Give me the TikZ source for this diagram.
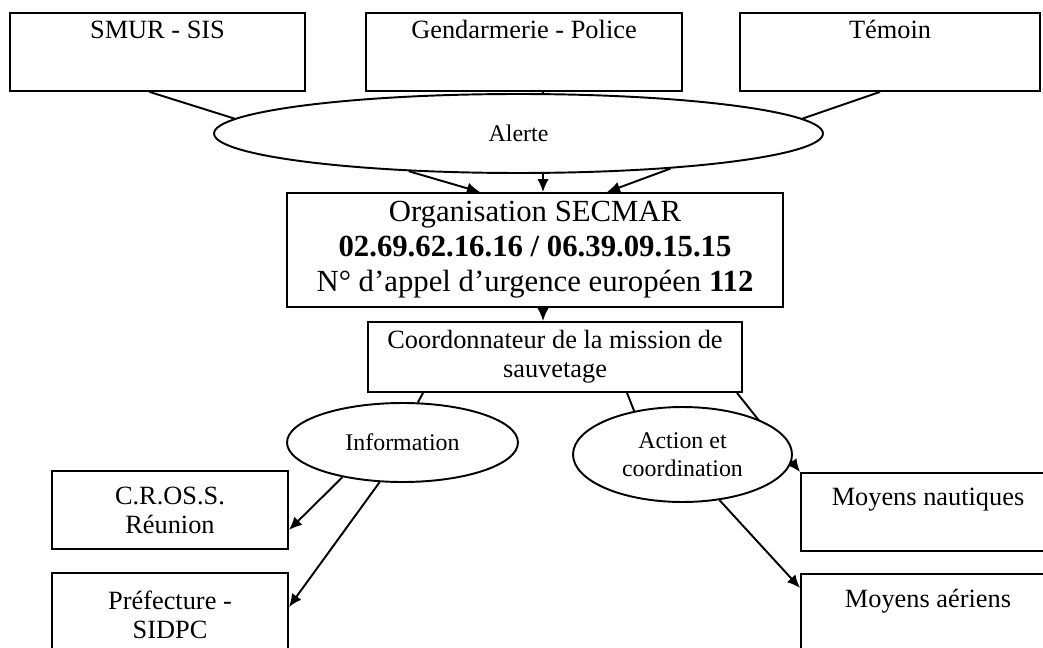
\documentclass[tikz,border=0pt]{standalone}
\usepackage{fontspec}
\setmainfont{Liberation Serif}
\usetikzlibrary{shapes.geometric,arrows.meta,calc}
\begin{document}
\begin{tikzpicture}[x=0.02cm, y=-0.02cm, line width=1.1pt,
    haut/.style={draw, anchor=north, inner ysep=0pt, font=\fontsize{15}{17}\selectfont},
    boite/.style={draw, align=center, inner sep=0pt, font=\fontsize{15}{16.5}\selectfont},
    bulle/.style={draw, ellipse, fill=white, align=center, inner sep=0pt, font=\fontsize{13.6}{16}\selectfont},
    fleche/.style={-{Latex[length=2.6mm,width=2.3mm]}}]
  \path[use as bounding box, clip] (0,0) rectangle (1043,648);
  \fill[white] (0,0) rectangle (1043,648);
  \coordinate (mid) at (543,0);
  % sources de l'alerte
  \node[haut, minimum width=5.9cm, text height=0.52cm, text depth=1.04cm] (smur) at (157.5,12) {SMUR - SIS};
  \node[haut, minimum width=6.32cm, text height=0.52cm, text depth=1.04cm] (gend) at (524,12) {Gendarmerie - Police};
  \node[haut, minimum width=6cm, text height=0.52cm, text depth=1.04cm] (temoin) at (890,12) {Témoin};
  % centre
  \node[boite, minimum width=9.92cm, minimum height=2.28cm, font=\fontsize{17.5}{19.9}\selectfont] (secmar) at (535,250)
    {Organisation SECMAR\\ \textbf{02.69.62.16.16 / 06.39.09.15.15}\\ N° d'appel d'urgence européen \textbf{112}};
  \node[boite, minimum width=7.48cm, minimum height=1.4cm] (coord) at (555,357) {Coordonnateur de la mission de\\ sauvetage};
  % destinataires
  \node[boite, minimum width=4.72cm, minimum height=1.56cm] (cross) at (170,510) {C.R.OS.S.\\ Réunion};
  \node[boite, minimum width=4.72cm, minimum height=1.68cm] (pref) at (170,615) {Préfecture -\\ SIDPC};
  \node[haut, minimum width=5.08cm, text height=0.66cm, text depth=0.9cm] (naut) at (928,472) {Moyens nautiques};
  \node[haut, minimum width=5.08cm, text height=0.68cm, text depth=1cm] (aer) at (928,573) {Moyens aériens};
  \draw[fleche] ($(coord.south)+(182,0)$) -- (naut.north west);
  % bulles
  \node[bulle, minimum width=12.18cm, minimum height=1.58cm] (alerte) at (518.5,133.5) {Alerte};
  \node[bulle, minimum width=4.62cm, minimum height=1.58cm] (info) at (402.5,442.5) {Information};
  \node[bulle, minimum width=4.38cm, minimum height=1.9cm] (action) at (682.5,454.5) {Action et\\ coordination};
  % liaisons
  \draw ($(smur.south)+(-8,0)$) -- (alerte.177);
  \draw (gend.south -| mid) -- (alerte.north -| mid);
  \draw ($(temoin.south)+(-10,0)$) -- (alerte.3);
  \draw[fleche] (alerte.199) -- ($(secmar.north)+(-55,0)$);
  \draw[fleche] (alerte.south -| mid) -- (secmar.north -| mid);
  \draw[fleche] (alerte.347) -- ($(secmar.north)+(72,0)$);
  \draw[fleche] (secmar.south -| mid) -- (coord.north -| mid);
  \draw ($(coord.south)+(-132,0)$) -- (info.69);
  \draw ($(coord.south)+(72,0)$) -- (action.138);
  \draw[fleche] (info.210) -- ($(cross.east)+(0,20)$);
  \draw[fleche] (info.240) -- ($(pref.east)+(0,-8)$);
  \draw[fleche] (action.309) -- ($(aer.north west)+(0,15)$);
\end{tikzpicture}
\end{document}
